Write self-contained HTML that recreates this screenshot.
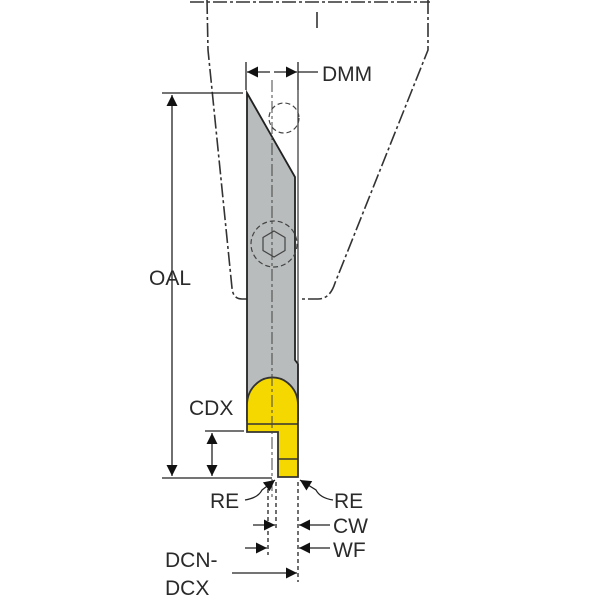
<!DOCTYPE html>
<html><head><style>body{margin:0;background:#fff}svg{display:block}text{font-family:"Liberation Sans",sans-serif;font-size:21px;fill:#2a2a2a}</style></head>
<body>
<svg width="600" height="600" viewBox="0 0 600 600" xmlns="http://www.w3.org/2000/svg">
<defs>
<marker id="a" viewBox="0 0 10 10" refX="10" refY="5" markerWidth="12" markerHeight="11" orient="auto-start-reverse" markerUnits="userSpaceOnUse"><path d="M0,0 L10,5 L0,10 z" fill="#111"/></marker>
</defs>
<g fill="none" stroke="#333" stroke-width="1.6">
<path d="M190,2 H430" stroke-dasharray="14,3,3,3"/>
<path d="M207,0 L208,50 L232,288 Q233,299 242,299 H262" stroke-dasharray="14,3,3,3"/>
<path d="M428,0 V50 L335,283 Q330,299 318,299 H302" stroke-dasharray="14,3,3,3"/>
<path d="M317,12 V28"/>
</g>
<path d="M247,93 L295,177 V360 L298,364 V420 H247 Z" fill="#b9bcbc" stroke="#222" stroke-width="1.8"/>
<path d="M298,90 V364" stroke="#333" stroke-width="1.2" fill="none"/>
<path d="M247,432 V405 A25,27 0 0 1 298,405 V477 H278 V432 Z" fill="#f5d800" stroke="#333" stroke-width="1.8"/>
<path d="M247,424 H298 M278,459 H298" stroke="#333" stroke-width="1.5"/>
<path d="M272,80 V500" stroke="#444" stroke-width="1" stroke-dasharray="12,3,3,3" fill="none"/>
<circle cx="284" cy="118" r="15" fill="none" stroke="#444" stroke-width="1.2" stroke-dasharray="5,3"/>
<circle cx="274" cy="244" r="23" fill="none" stroke="#444" stroke-width="1.2" stroke-dasharray="5,3"/>
<polygon points="274,231 285,237.5 285,250.5 274,257 263,250.5 263,237.5" fill="none" stroke="#444" stroke-width="1.2"/>
<g stroke="#222" stroke-width="1.3" fill="none">
<path d="M246,62 V90 M298,62 V90"/>
<path d="M270,72 H247" marker-end="url(#a)"/><path d="M274,72 H297" marker-end="url(#a)"/>
<path d="M298,72 H318"/>
<path d="M162,93 H243 M162,478 H272"/>
<path d="M172,95 V476" marker-start="url(#a)" marker-end="url(#a)"/>
<path d="M205,431 H244"/>
<path d="M212,433 V476" marker-start="url(#a)" marker-end="url(#a)"/>
<path d="M268,482 V555 M276,482 V530 M298,482 V582" stroke-dasharray="4,3"/>
<path d="M245,500 Q258,498 262,490 L275,480" marker-end="url(#a)"/>
<path d="M333,500 Q320,498 316,490 L300,480" marker-end="url(#a)"/>
<path d="M253,525 H275" marker-end="url(#a)"/><path d="M330,525 H299" marker-end="url(#a)"/>
<path d="M245,548 H267" marker-end="url(#a)"/><path d="M330,548 H299" marker-end="url(#a)"/>
<path d="M232,573 H297" marker-end="url(#a)"/>
</g>
<text x="322" y="81">DMM</text>
<text x="149" y="285">OAL</text>
<text x="189" y="415">CDX</text>
<text x="210" y="508">RE</text>
<text x="334" y="508">RE</text>
<text x="333" y="533">CW</text>
<text x="333" y="557">WF</text>
<text x="165" y="567">DCN-</text>
<text x="165" y="595">DCX</text>
</svg>
</body></html>
